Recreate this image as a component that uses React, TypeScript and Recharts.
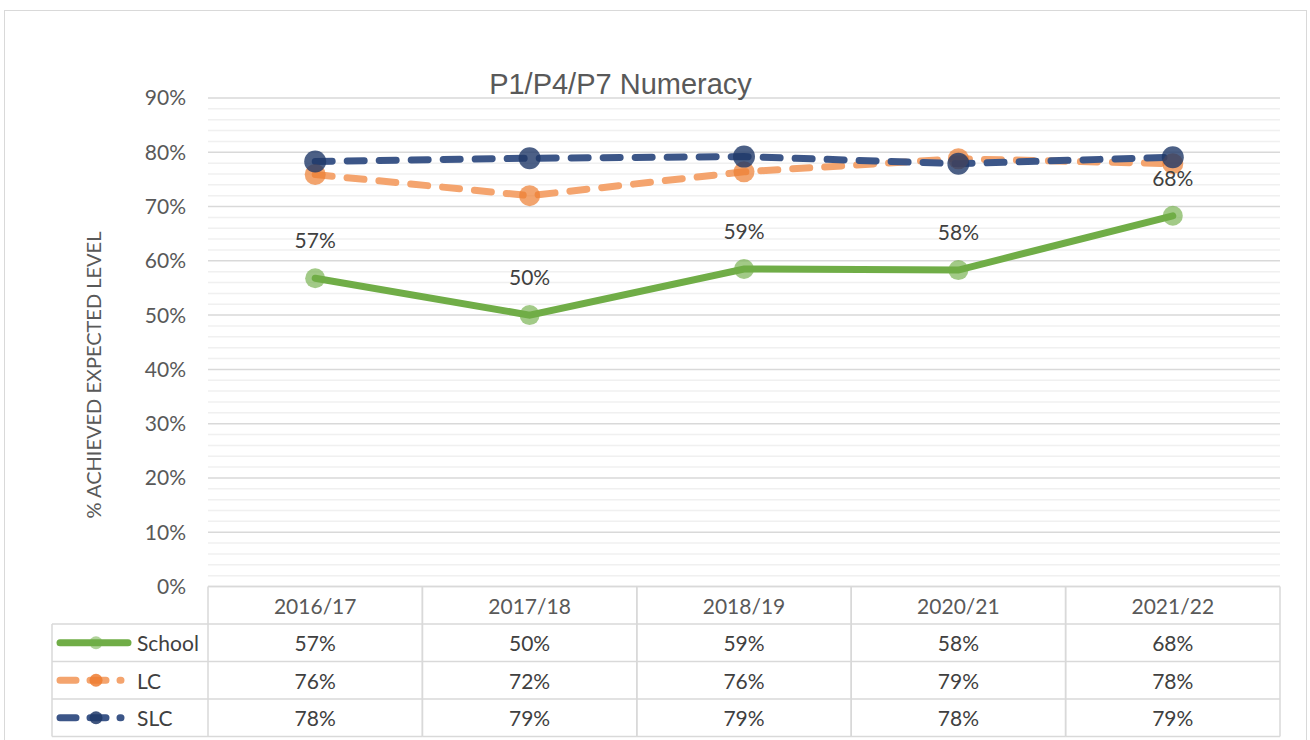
import React from "react";
import { LineChart, Line, XAxis, YAxis, CartesianGrid, ReferenceLine, LabelList } from "recharts";

const years = ["2016/17", "2017/18", "2018/19", "2020/21", "2021/22"];
const school = [56.8, 50.0, 58.5, 58.3, 68.3];
const lc = [75.9, 72.0, 76.4, 78.8, 77.9];
const slc = [78.3, 78.9, 79.2, 77.9, 79.1];
const yTicks = [0, 10, 20, 30, 40, 50, 60, 70, 80, 90];
const minorTicks = [2, 4, 6, 8, 12, 14, 16, 18, 22, 24, 26, 28, 32, 34, 36, 38, 42, 44, 46, 48, 52, 54, 56, 58, 62, 64, 66, 68, 72, 74, 76, 78, 82, 84, 86, 88];

const data = years.map((y, i) => ({ year: y, School: school[i], LC: lc[i], SLC: slc[i] }));

const colors = {
  green: "#70ad47",
  orange: "#f4a46e",
  orangeDot: "#ed7d31",
  navy: "#3c5688",
  navyDot: "#1f3868",
  grid: "#d9d9d9",
  minor: "#f0f0f0",
  text: "#404040",
  axis: "#595959",
};

const W = 1310;
const H = 740;
const PLOT_L = 208;
const PLOT_R = 1280;
const PLOT_B = 586.5;
const ROW_H = 37.5;
const LEG_L = 52;
const BAND = (PLOT_R - PLOT_L) / years.length;
const font = "Lato, 'Open Sans', sans-serif";

const rows = [
  { name: "School", values: school, color: colors.green, dot: colors.green, dash: false },
  { name: "LC", values: lc, color: colors.orange, dot: colors.orangeDot, dash: true },
  { name: "SLC", values: slc, color: colors.navy, dot: colors.navyDot, dash: true },
];

function TableTick(props: any) {
  const { x, index } = props;
  const left = x - BAND / 2;
  const right = x + BAND / 2;
  const bottom = PLOT_B + ROW_H * 4;
  return (
    <g>
      <line x1={left} x2={left} y1={PLOT_B} y2={bottom} stroke={colors.grid} strokeWidth={1.5} />
      <line x1={right} x2={right} y1={PLOT_B} y2={bottom} stroke={colors.grid} strokeWidth={1.5} />
      {[0, 1, 2, 3, 4].map((r) => (
        <line key={r} x1={left} x2={right} y1={PLOT_B + r * ROW_H} y2={PLOT_B + r * ROW_H} stroke={colors.grid} strokeWidth={1.5} />
      ))}
      <text x={x} y={PLOT_B + ROW_H / 2} textAnchor="middle" dominantBaseline="central" fontFamily={font} fontSize={21} fill={colors.axis}>
        {years[index]}
      </text>
      {rows.map((row, r) => (
        <text key={row.name} x={x} y={PLOT_B + ROW_H * (r + 1.5)} textAnchor="middle" dominantBaseline="central" fontFamily={font} fontSize={21} fill={colors.text}>
          {Math.round(row.values[index])}%
        </text>
      ))}
      {index === 0 && (
        <g>
          <line x1={LEG_L} x2={LEG_L} y1={PLOT_B + ROW_H} y2={bottom} stroke={colors.grid} strokeWidth={1.5} />
          {[1, 2, 3, 4].map((r) => (
            <line key={r} x1={LEG_L} x2={left} y1={PLOT_B + r * ROW_H} y2={PLOT_B + r * ROW_H} stroke={colors.grid} strokeWidth={1.5} />
          ))}
          {rows.map((row, r) => {
            const cy = PLOT_B + ROW_H * (r + 1.5);
            return (
              <g key={row.name}>
                <line x1={60} x2={128} y1={cy} y2={cy} stroke={row.color} strokeWidth={7} strokeLinecap="round" strokeDasharray={row.dash ? "16 14 16 14 1 20" : undefined} />
                <circle cx={96} cy={cy} r={6.5} fill={row.dot} fillOpacity={row.dash ? 0.85 : 0.55} />
                <text x={137} y={cy} dominantBaseline="central" fontFamily={font} fontSize={21} fill={colors.text}>
                  {row.name}
                </text>
              </g>
            );
          })}
        </g>
      )}
    </g>
  );
}

export default function App() {
  return (
    <div style={{ position: "relative", width: W, height: H, overflow: "hidden", background: "#fff" }}>
      <style>{`body{margin:0}`}</style>
      <div style={{ position: "absolute", left: 4, top: 10, width: 1301, height: 760, border: "1.5px solid #d9d9d9" }} />
      <div style={{ position: "absolute", left: 0, top: 0 }}>
        <LineChart width={W} height={H} data={data} margin={{ top: 98, right: W - PLOT_R, left: PLOT_L - 60, bottom: H - PLOT_B - 150 }}>
          {minorTicks.map((v) => (
            <ReferenceLine key={v} y={v} stroke={colors.minor} strokeWidth={1.5} ifOverflow="hidden" />
          ))}
          <CartesianGrid vertical={false} stroke={colors.grid} strokeWidth={1.5} />
          <XAxis dataKey="year" scale="band" axisLine={false} tickLine={false} tickSize={0} height={150} interval={0} tick={<TableTick />} />
          <YAxis
            domain={[0, 90]}
            ticks={yTicks}
            width={60}
            axisLine={false}
            tickLine={false}
            tickSize={0}
            tickMargin={22}
            tickFormatter={(v) => `${v}%`}
            tick={{ fontFamily: font, fontSize: 21, fill: colors.axis }}
          />
          <Line
            dataKey="School"
            stroke={colors.green}
            strokeWidth={7}
            strokeLinecap="round"
            dot={{ r: 10, fill: colors.green, fillOpacity: 0.65, stroke: "none" }}
            activeDot={false}
            isAnimationActive={false}
          >
            <LabelList dataKey="School" position="top" offset={30} formatter={(v: any) => `${Math.round(v)}%`} style={{ fontFamily: font, fontSize: 21, fill: colors.text }} />
          </Line>
          <Line
            dataKey="LC"
            stroke={colors.orange}
            strokeWidth={7}
            strokeDasharray="17 15"
            strokeLinecap="round"
            dot={{ r: 10.5, fill: colors.orangeDot, fillOpacity: 0.7, stroke: "none" }}
            activeDot={false}
            isAnimationActive={false}
          />
          <Line
            dataKey="SLC"
            stroke={colors.navy}
            strokeWidth={7}
            strokeDasharray="17 15"
            strokeLinecap="round"
            dot={{ r: 11, fill: colors.navyDot, fillOpacity: 0.8, stroke: "none" }}
            activeDot={false}
            isAnimationActive={false}
          />
          <text x={620.5} y={94} textAnchor="middle" fontFamily="'Liberation Sans', Arial, sans-serif" fontSize={29} fill={colors.axis}>
            P1/P4/P7 Numeracy
          </text>
          <text x={101} y={375} transform="rotate(-90 101 375)" textAnchor="middle" fontFamily={font} fontSize={20} fill={colors.axis}>
            % ACHIEVED EXPECTED LEVEL
          </text>
        </LineChart>
      </div>
    </div>
  );
}
